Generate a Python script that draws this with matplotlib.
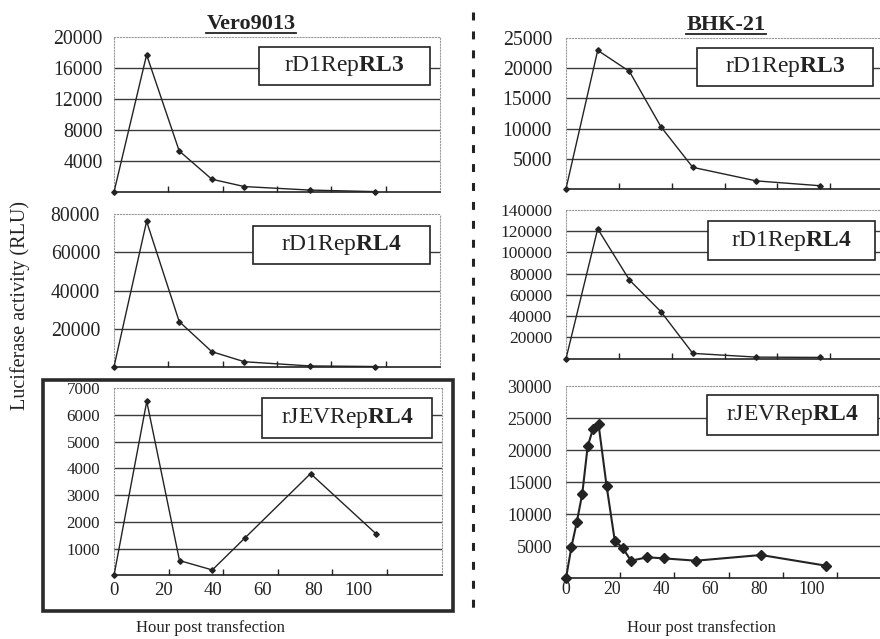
import matplotlib.pyplot as plt
from matplotlib.patches import Rectangle
from matplotlib.lines import Line2D

plt.rcParams['font.family'] = ['Liberation Serif', 'DejaVu Serif']
plt.rcParams['mathtext.fontset'] = 'custom'
plt.rcParams['mathtext.rm'] = 'Liberation Serif'
plt.rcParams['mathtext.bf'] = 'Liberation Serif:bold'

# hours post transfection
hours = [0, 12, 24, 36, 48, 72, 96]
jev_hours_bhk = [0, 2, 4, 6, 8, 10, 12, 15, 18, 21, 24, 30, 36, 48, 72, 96]

# luciferase activity (RLU)
vero_rl3 = [0, 17700, 5300, 1650, 700, 250, 50]
vero_rl4 = [0, 76300, 23700, 7900, 2600, 400, 100]
vero_jev = [0, 6500, 550, 200, 1400, 3800, 1550]
bhk_rl3 = [0, 23000, 19500, 10250, 3550, 1300, 500]
bhk_rl4 = [0, 122000, 74000, 44000, 5000, 1500, 1200]
bhk_jev = [0, 4900, 8800, 13200, 20600, 23400, 24100, 14400, 5900, 4700,
           2750, 3280, 3120, 2750, 3640, 1970]

vero_rl3_ticks = [4000, 8000, 12000, 16000, 20000]
vero_rl4_ticks = [20000, 40000, 60000, 80000]
vero_jev_ticks = [1000, 2000, 3000, 4000, 5000, 6000, 7000]
bhk_rl3_ticks = [5000, 10000, 15000, 20000, 25000]
bhk_rl4_ticks = [20000, 40000, 60000, 80000, 100000, 120000, 140000]
bhk_jev_ticks = [5000, 10000, 15000, 20000, 25000, 30000]

x_marks = [20, 40, 60, 80, 100]
x_labels = ['0', '20', '40', '60', '80', '100']
# where the hour labels sit in the original (they drift left of the tick marks)
vero_label_pos = [0, 18, 36.3, 54.6, 73, 89.7]
bhk_label_pos = [0, 16.9, 35.3, 53.1, 71.2, 90.7]

W, H = 880.0, 639.0
DARK = '#232323'


def px_rect(x0, y0, x1, y1):
    # pixel box (top-left origin) -> figure fraction rect
    return [x0 / W, 1 - y1 / H, (x1 - x0) / W, (y1 - y0) / H]


def draw_panel(fig, rect, x, y, ticks, tick_size, box, name, bold,
               marker_size=2.8, line_width=1.0, pad=10):
    ax = fig.add_axes(rect)
    y_max = ticks[-1]
    ax.plot(x, y, color=DARK, linewidth=line_width, marker='D',
            markersize=marker_size, zorder=4, clip_on=False)
    ax.set_xlim(0, 120)
    ax.set_ylim(0, y_max)
    for v in ticks[:-1]:
        ax.axhline(v, color='#3c3c3c', linewidth=1.0, zorder=1)
    ax.set_yticks(ticks)
    ax.set_yticklabels([str(v) for v in ticks], fontsize=tick_size, color=DARK)
    ax.tick_params(axis='y', length=0, pad=pad)
    ax.set_xticks([])
    ax.set_xticks(x_marks, minor=True)
    ax.tick_params(axis='x', which='minor', direction='in', length=4,
                   width=1.0, color=DARK)
    for side in ['left', 'top', 'right']:
        ax.spines[side].set_color('#9a9a9a')
        ax.spines[side].set_linestyle(':')
        ax.spines[side].set_linewidth(0.8)
    ax.spines['bottom'].set_color(DARK)
    ax.spines['bottom'].set_linewidth(1.2)
    ax.add_patch(Rectangle((box[0], box[1]), box[2] - box[0], box[3] - box[1],
                           transform=ax.transAxes, facecolor='white',
                           edgecolor=DARK, linewidth=1.2, zorder=3))
    ax.text((box[0] + box[2]) / 2, (box[1] + box[3]) / 2,
            name + r'$\mathbf{' + bold + '}$', transform=ax.transAxes,
            ha='center', va='center', fontsize=17, color=DARK, zorder=5)
    return ax


def underline(fig, txt):
    fig.canvas.draw()
    bb = txt.get_window_extent().transformed(fig.transFigure.inverted())
    fig.add_artist(Line2D([bb.x0, bb.x1], [bb.y0 + 0.001, bb.y0 + 0.001],
                          transform=fig.transFigure, color=DARK, linewidth=1.3))


def main():
    fig = plt.figure(figsize=(W / 100, H / 100), dpi=100)

    draw_panel(fig, px_rect(114, 37, 440, 192), hours, vero_rl3, vero_rl3_ticks, 14.2,
               (0.445, 0.690, 0.969, 0.935), 'rD1Rep', 'RL3', pad=8)
    draw_panel(fig, px_rect(114, 214.3, 440, 366.7), hours, vero_rl4, vero_rl4_ticks, 14.2,
               (0.426, 0.674, 0.969, 0.925), 'rD1Rep', 'RL4')
    ax = draw_panel(fig, px_rect(114, 388, 441.6, 575.3), hours, vero_jev, vero_jev_ticks, 12.2,
                    (0.452, 0.731, 0.971, 0.948), 'rJEVRep', 'RL4')
    ax.set_xticks(vero_label_pos)
    ax.set_xticklabels(x_labels, fontsize=13.5, color=DARK)
    ax.tick_params(axis='x', which='major', length=0, pad=5)

    draw_panel(fig, px_rect(566, 38.3, 883, 188.7), hours, bhk_rl3, bhk_rl3_ticks, 14.2,
               (0.413, 0.685, 0.968, 0.9375), 'rD1Rep', 'RL3')
    draw_panel(fig, px_rect(566, 209.7, 883, 358.7), hours, bhk_rl4, bhk_rl4_ticks, 12.5,
               (0.448, 0.662, 0.975, 0.924), 'rD1Rep', 'RL4')
    ax = draw_panel(fig, px_rect(566, 386.3, 891, 578.3), jev_hours_bhk, bhk_jev, bhk_jev_ticks, 13,
                    (0.434, 0.746, 0.960, 0.955), 'rJEVRep', 'RL4',
                    marker_size=5.5, line_width=1.5)
    ax.set_xticks(bhk_label_pos)
    ax.set_xticklabels(x_labels, fontsize=12.8, color=DARK)
    ax.tick_params(axis='x', which='major', length=0, pad=2)

    # thick frame around the Vero rJEVRepRL4 panel
    fig.add_artist(Rectangle((43 / W, 1 - 610.7 / H), (453 - 43) / W, (610.7 - 380) / H,
                             transform=fig.transFigure, fill=False,
                             edgecolor='#2a2a2a', linewidth=2.6))
    # dashed separator
    fig.add_artist(Line2D([472.7 / W, 472.7 / W], [1 - 12 / H, 1 - 615 / H],
                          transform=fig.transFigure, color=DARK, linewidth=2.2,
                          linestyle=(0, (2.6, 3.6))))

    t1 = fig.text(251 / W, 1 - 24 / H, 'Vero9013', ha='center', va='center',
                  fontsize=16, fontweight='bold', color=DARK)
    t2 = fig.text(726 / W, 1 - 25 / H, 'BHK-21', ha='center', va='center',
                  fontsize=16, fontweight='bold', color=DARK)
    underline(fig, t1)
    underline(fig, t2)

    fig.text(20 / W, 1 - 306 / H, 'Luciferase activity (RLU)', rotation=90,
             ha='center', va='center', fontsize=14.5, color=DARK)
    fig.text(210 / W, 1 - 628 / H, 'Hour post transfection', ha='center',
             va='center', fontsize=12, color=DARK)
    fig.text(701 / W, 1 - 628 / H, 'Hour post transfection', ha='center',
             va='center', fontsize=12, color=DARK)

    fig.savefig('out.png', dpi=100)


if __name__ == '__main__':
    main()
